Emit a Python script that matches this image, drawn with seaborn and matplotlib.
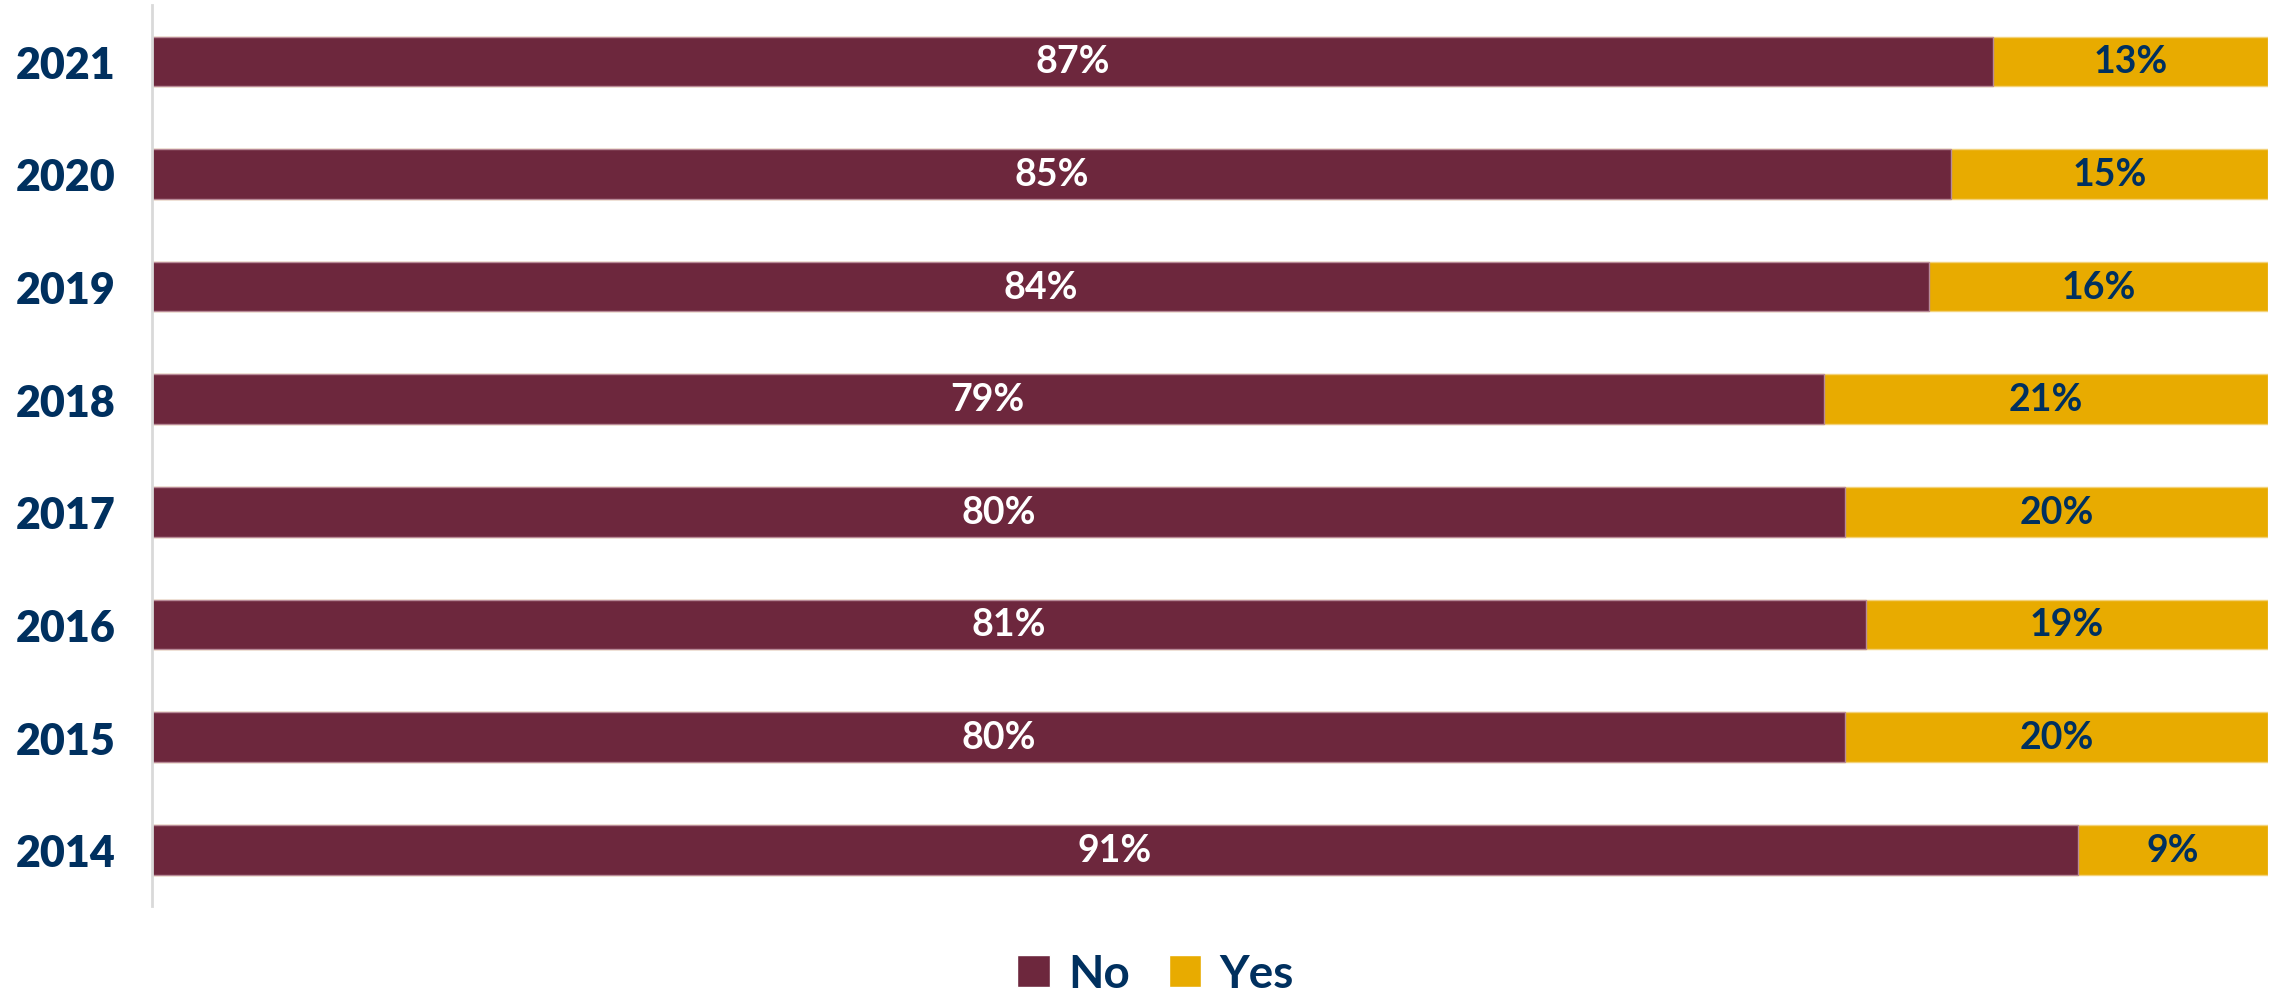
import pandas as pd
import matplotlib.pyplot as plt
import seaborn as sns
from matplotlib.patches import Patch

# Data
years = ["2021", "2020", "2019", "2018", "2017", "2016", "2015", "2014"]
no_pct = [87, 85, 84, 79, 80, 81, 80, 91]
yes_pct = [13, 15, 16, 21, 20, 19, 20, 9]

df = pd.DataFrame({"Year": years, "No": no_pct, "Yes": yes_pct})
df["Total"] = df["No"] + df["Yes"]

maroon = "#6D273D"
gold = "#E8AB00"
navy = "#00305F"

sns.set_theme(style="white")
plt.rcParams["font.family"] = ["Lato", "DejaVu Sans"]

fig = plt.figure(figsize=(22.79, 9.95), dpi=100)
ax = fig.add_axes([0.0667, 0.0884, 0.9285, 0.9056])

# stacked bars: full length in gold, then "No" on top in maroon
sns.barplot(data=df, y="Year", x="Total", color=gold, width=0.44,
            orient="h", ax=ax, saturation=1, edgecolor="#F3D27A", linewidth=1)
sns.barplot(data=df, y="Year", x="No", color=maroon, width=0.44,
            orient="h", ax=ax, saturation=1, edgecolor="#B88A98", linewidth=1)

# Labels
for i, (n, y) in enumerate(zip(df["No"], df["Yes"])):
    ax.text(n / 2, i, f"{n}%", ha="center", va="center", color="white",
            fontsize=27, fontweight="bold")
    ax.text(n + y / 2, i, f"{y}%", ha="center", va="center", color=navy,
            fontsize=27, fontweight="bold")

ax.set_xlim(0, 100)
ax.set_ylim(7.5, -0.5)
ax.set_xlabel("")
ax.set_ylabel("")
ax.set_xticks([])
ax.tick_params(axis="y", length=0, pad=26)
for lbl in ax.get_yticklabels():
    lbl.set_fontsize(31)
    lbl.set_fontweight("heavy")
    lbl.set_color(navy)

for s in ["top", "right", "bottom"]:
    ax.spines[s].set_visible(False)
ax.spines["left"].set_color("#D9D9D9")
ax.spines["left"].set_linewidth(2)

handles = [Patch(facecolor=maroon, label="No"), Patch(facecolor=gold, label="Yes")]
leg = fig.legend(handles=handles, loc="center", bbox_to_anchor=(0.507, 0.02),
                 ncol=2, frameon=False, handlelength=0.7, handleheight=0.7,
                 handletextpad=0.4, columnspacing=0.85,
                 prop={"size": 33, "weight": "bold"})
for t in leg.get_texts():
    t.set_color(navy)

plt.savefig("out.png", dpi=100)
